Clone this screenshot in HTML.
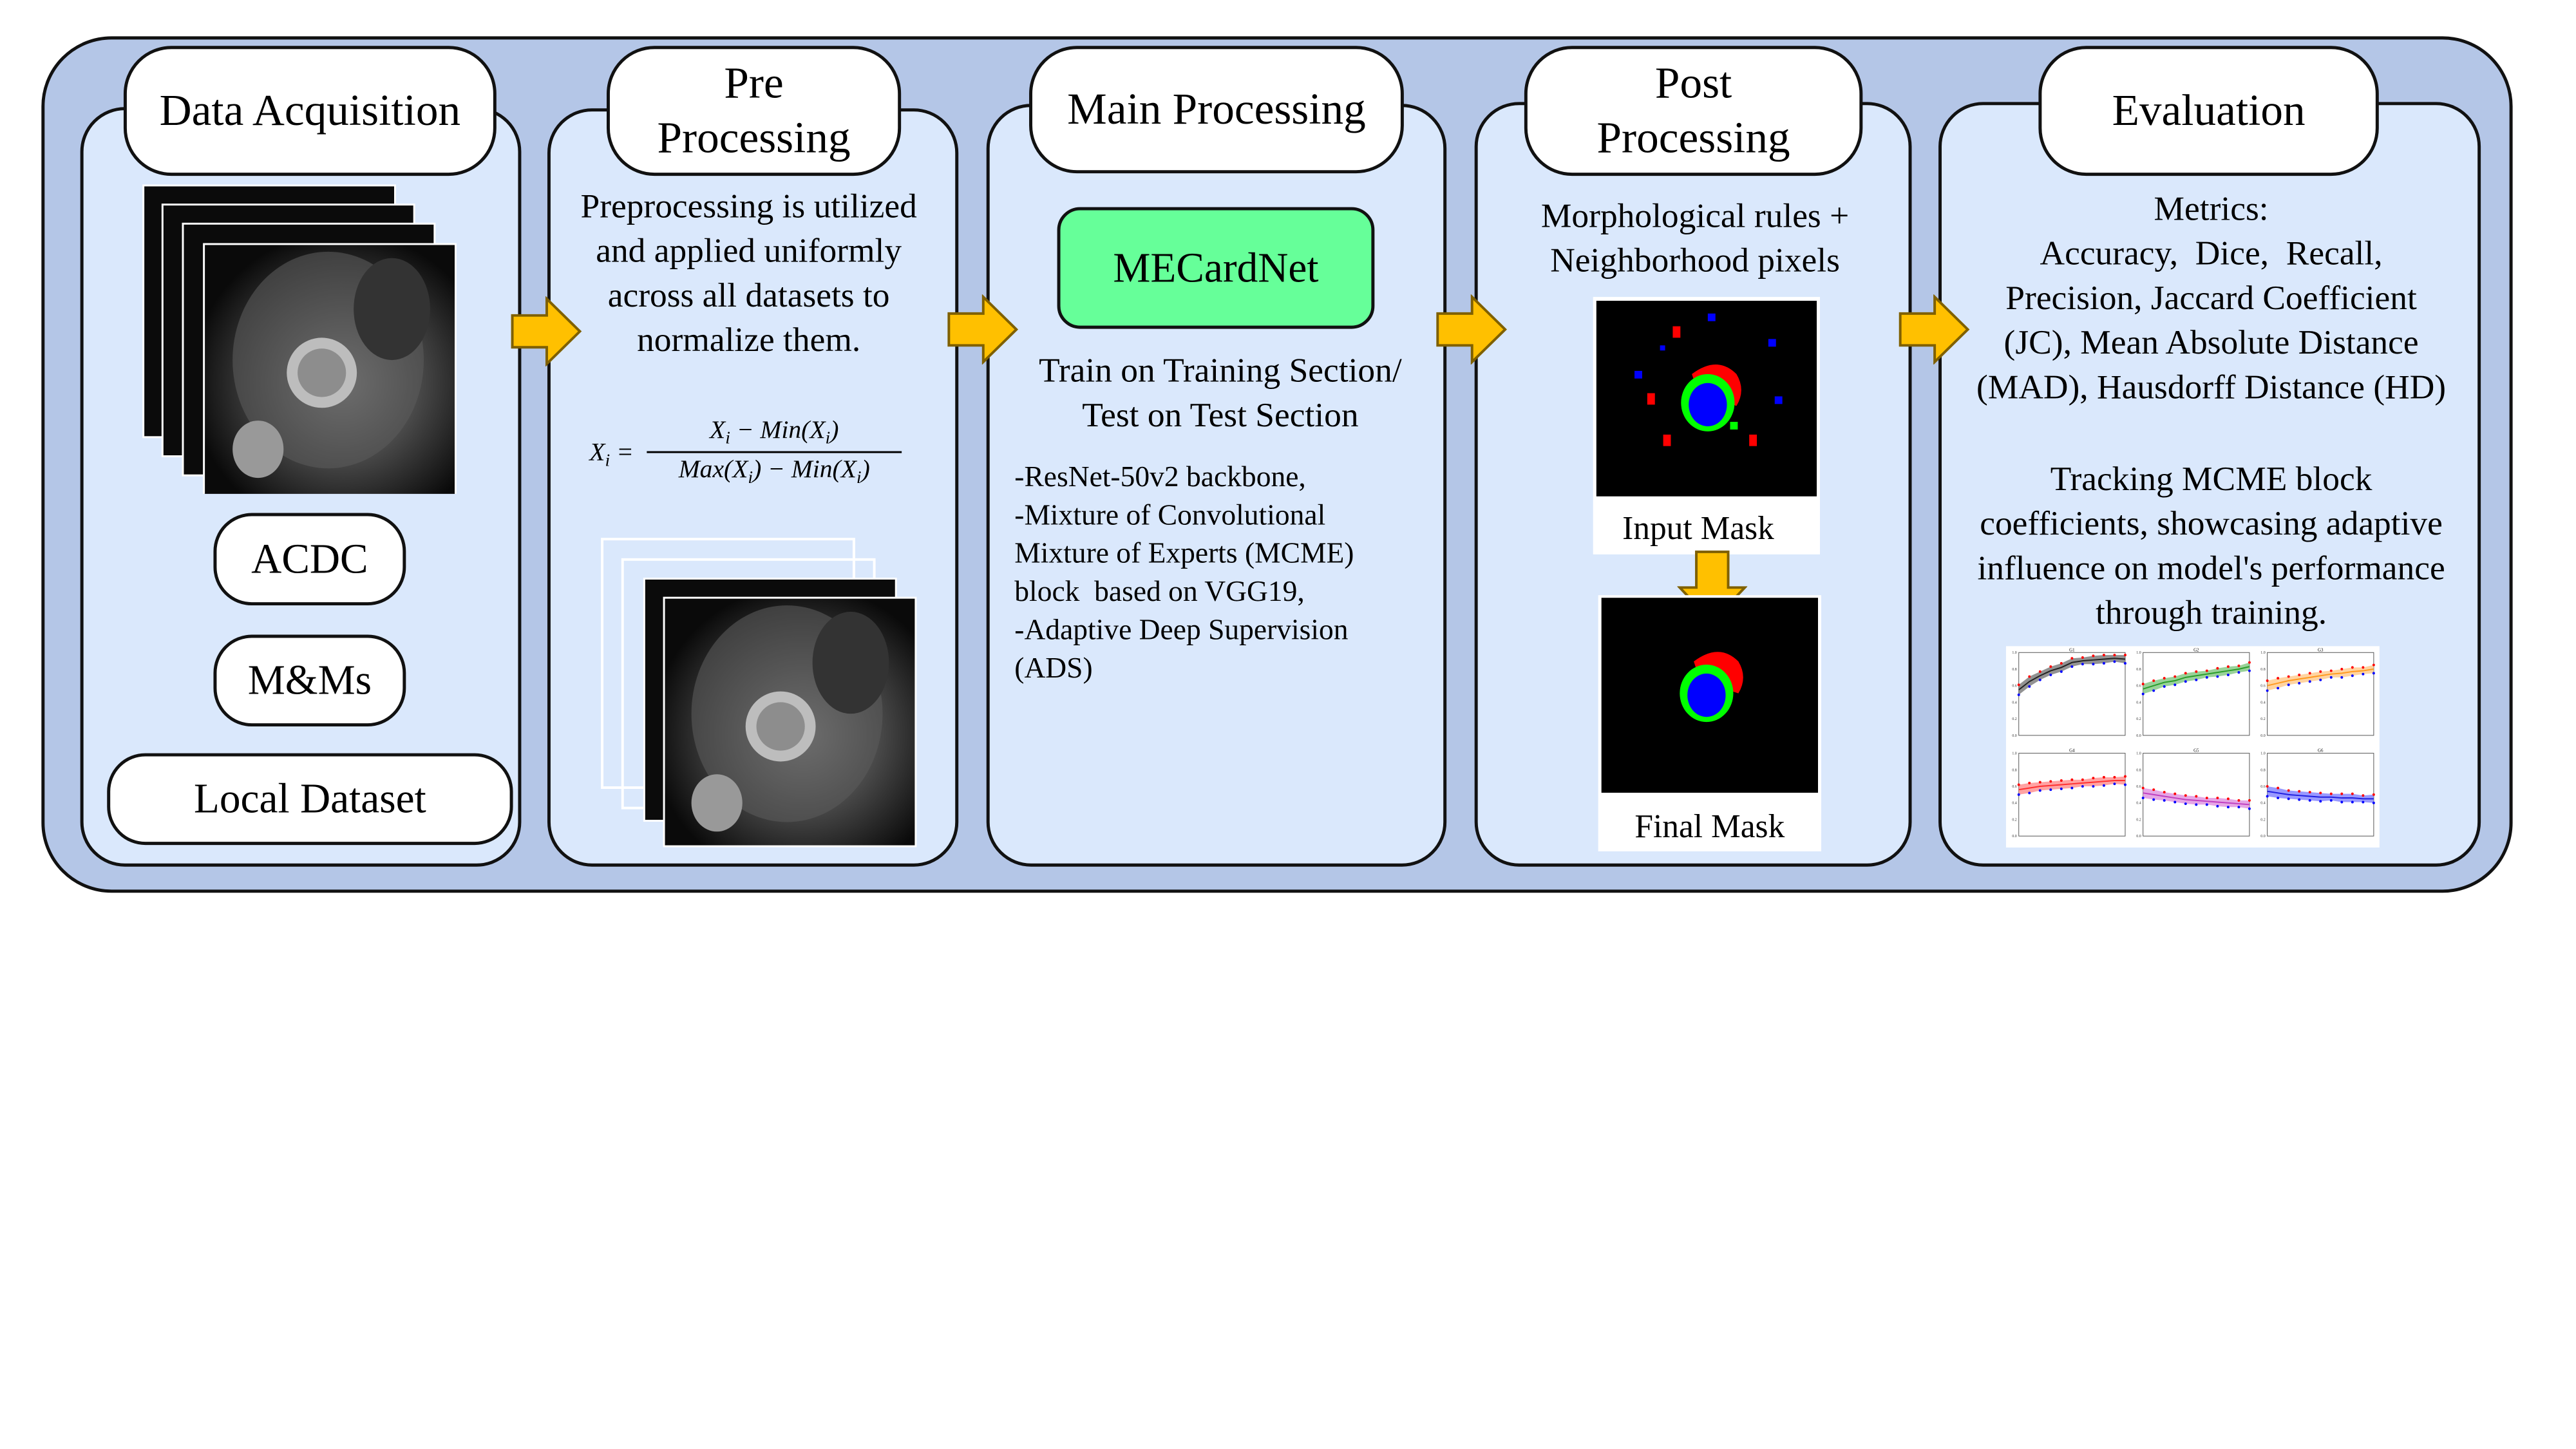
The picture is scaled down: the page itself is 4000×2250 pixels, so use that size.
<!DOCTYPE html>
<html><head><meta charset="utf-8">
<style>
body{margin:0;background:#fff;}
#wrap{position:relative;width:4000px;height:2250px;overflow:hidden;}
#root{position:absolute;left:0;top:0;width:4000px;height:2250px;transform:scale(0.9895);transform-origin:0 0;font-family:"Liberation Serif",serif;color:#000;}
.abs{position:absolute;box-sizing:border-box;}
.outer{left:65px;top:57px;width:3878px;height:1344px;background:#b4c6e7;border:5px solid #111;border-radius:110px;}
.col{background:#dae8fc;border:5px solid #111;border-radius:70px;}
.hdr{background:#fff;border:5px solid #111;border-radius:75px;display:flex;align-items:center;justify-content:center;text-align:center;font-size:70px;line-height:86px;}
.pill{background:#fff;border:5px solid #111;border-radius:60px;display:flex;align-items:center;justify-content:center;font-size:66px;}
.txt{text-align:center;font-size:54px;line-height:70px;}
</style></head><body>
<div id="wrap">
<div id="root">
<div class="abs outer"></div>

<div class="abs col" style="left:126px;top:168px;width:692px;height:1192px"></div>
<div class="abs col" style="left:859px;top:170px;width:645px;height:1190px"></div>
<div class="abs col" style="left:1548px;top:163px;width:722px;height:1197px"></div>
<div class="abs col" style="left:2314px;top:160px;width:686px;height:1200px"></div>
<div class="abs col" style="left:3042px;top:160px;width:851px;height:1200px"></div>

<div class="abs hdr" style="left:194px;top:72px;width:585px;height:204px">Data Acquisition</div>
<div class="abs hdr" style="left:952px;top:72px;width:462px;height:204px">Pre<br>Processing</div>
<div class="abs hdr" style="left:1615px;top:72px;width:588px;height:200px">Main Processing</div>
<div class="abs hdr" style="left:2392px;top:72px;width:531px;height:204px">Post<br>Processing</div>
<div class="abs hdr" style="left:3199px;top:72px;width:534px;height:204px">Evaluation</div>

<svg class="abs" style="left:800px;top:465px;width:120px;height:110px"><polygon points="4,30 58,30 58,4 110,55 58,106 58,80 4,80" fill="#ffc000" stroke="#7f6000" stroke-width="4"/></svg>
<svg class="abs" style="left:1485px;top:462px;width:120px;height:110px"><polygon points="4,30 58,30 58,4 110,55 58,106 58,80 4,80" fill="#ffc000" stroke="#7f6000" stroke-width="4"/></svg>
<svg class="abs" style="left:2252px;top:462px;width:120px;height:110px"><polygon points="4,30 58,30 58,4 110,55 58,106 58,80 4,80" fill="#ffc000" stroke="#7f6000" stroke-width="4"/></svg>
<svg class="abs" style="left:2978px;top:462px;width:120px;height:110px"><polygon points="4,30 58,30 58,4 110,55 58,106 58,80 4,80" fill="#ffc000" stroke="#7f6000" stroke-width="4"/></svg>

<svg class="abs" style="left:215px;top:285px;width:520px;height:490px">
<defs><radialGradient id="mri" cx="0.55" cy="0.55" r="0.6"><stop offset="0" stop-color="#8a8a8a"/><stop offset="0.5" stop-color="#4a4a4a"/><stop offset="1" stop-color="#0a0a0a"/></radialGradient></defs>
<rect x="10" y="6" width="395" height="395" fill="#0b0b0b" stroke="#fff" stroke-width="3"/>
<rect x="40" y="36" width="395" height="395" fill="#0b0b0b" stroke="#fff" stroke-width="3"/>
<rect x="72" y="66" width="395" height="395" fill="#0b0b0b" stroke="#fff" stroke-width="3"/>
<rect x="105" y="98" width="395" height="395" fill="url(#mri)" stroke="#fff" stroke-width="3"/>
<ellipse cx="300" cy="280" rx="150" ry="170" fill="#5a5a5a" opacity="0.6"/>
<circle cx="290" cy="300" r="55" fill="#bdbdbd"/><circle cx="290" cy="300" r="38" fill="#8d8d8d"/>
<ellipse cx="400" cy="200" rx="60" ry="80" fill="#333"/>
<ellipse cx="190" cy="420" rx="40" ry="45" fill="#999"/>
</svg>
<div class="abs pill" style="left:335px;top:805px;width:302px;height:145px">ACDC</div>
<div class="abs pill" style="left:335px;top:996px;width:302px;height:144px">M&amp;Ms</div>
<div class="abs pill" style="left:168px;top:1182px;width:637px;height:144px">Local Dataset</div>

<div class="abs txt" style="left:870px;top:288px;width:610px">Preprocessing is utilized<br>and applied uniformly<br>across all datasets to<br>normalize them.</div>
<div class="abs" style="left:925px;top:650px;width:500px;height:120px;font-style:italic;font-size:40px;">
 <div class="abs" style="left:0;top:35px;">X<sub style="font-size:28px">i</sub> =</div>
 <div class="abs" style="left:90px;top:0;width:400px;text-align:center;border-bottom:3px solid #000;padding-bottom:4px">X<sub style="font-size:28px">i</sub> − Min(X<sub style="font-size:28px">i</sub>)</div>
 <div class="abs" style="left:90px;top:62px;width:400px;text-align:center">Max(X<sub style="font-size:28px">i</sub>) − Min(X<sub style="font-size:28px">i</sub>)</div>
</div>
<svg class="abs" style="left:935px;top:840px;width:520px;height:490px">
<rect x="10" y="6" width="395" height="390" fill="none" stroke="#fff" stroke-width="4"/>
<rect x="42" y="38" width="395" height="390" fill="none" stroke="#fff" stroke-width="4"/>
<rect x="76" y="68" width="395" height="380" fill="#0b0b0b" stroke="#fff" stroke-width="3"/>
<rect x="107" y="98" width="395" height="390" fill="url(#mri)" stroke="#fff" stroke-width="3"/>
<ellipse cx="300" cy="280" rx="150" ry="170" fill="#5a5a5a" opacity="0.6"/>
<circle cx="290" cy="300" r="55" fill="#bdbdbd"/><circle cx="290" cy="300" r="38" fill="#8d8d8d"/>
<ellipse cx="400" cy="200" rx="60" ry="80" fill="#333"/>
<ellipse cx="190" cy="420" rx="40" ry="45" fill="#999"/>
</svg>

<div class="abs" style="left:1659px;top:325px;width:498px;height:191px;background:#66ff99;border:5px solid #111;border-radius:36px;display:flex;align-items:center;justify-content:center;font-size:66px">MECardNet</div>
<div class="abs txt" style="left:1560px;top:546px;width:710px">Train on Training Section/<br>Test on Test Section</div>
<div class="abs" style="left:1592px;top:718px;width:660px;font-size:46px;line-height:60px">-ResNet-50v2 backbone,<br>-Mixture of Convolutional<br>Mixture of Experts (MCME)<br>block&nbsp; based on VGG19,<br>-Adaptive Deep Supervision<br>(ADS)</div>

<div class="abs txt" style="left:2320px;top:303px;width:680px">Morphological rules +<br>Neighborhood pixels</div>
<div class="abs" style="left:2500px;top:466px;width:356px;height:404px;background:#fff"></div>
<svg class="abs" style="left:2505px;top:472px;width:346px;height:307px">
<rect width="346" height="307" fill="#000"/>
<path d="M150,115 q40,-30 70,0 q15,25 0,50 l-60,-20z" fill="#f00"/>
<ellipse cx="175" cy="160" rx="42" ry="45" fill="#0f0"/><ellipse cx="175" cy="163" rx="30" ry="34" fill="#00f"/>
<rect x="175" y="20" width="12" height="12" fill="#00f"/><rect x="120" y="40" width="12" height="18" fill="#f00"/>
<rect x="270" y="60" width="12" height="12" fill="#00f"/><rect x="60" y="110" width="12" height="12" fill="#00f"/>
<rect x="80" y="145" width="12" height="18" fill="#f00"/><rect x="280" y="150" width="12" height="12" fill="#00f"/>
<rect x="105" y="210" width="12" height="18" fill="#f00"/><rect x="240" y="210" width="12" height="18" fill="#f00"/>
<rect x="210" y="190" width="12" height="12" fill="#0f0"/><rect x="100" y="70" width="8" height="8" fill="#00f"/>
</svg>
<div class="abs" style="left:2500px;top:800px;width:330px;text-align:center;font-size:52px">Input Mask</div>
<svg class="abs" style="left:2632px;top:862px;width:110px;height:120px"><polygon points="30,4 80,4 80,60 106,60 55,114 4,60 30,60" fill="#ffc000" stroke="#7f6000" stroke-width="4"/></svg>
<div class="abs" style="left:2508px;top:934px;width:350px;height:402px;background:#fff"></div>
<svg class="abs" style="left:2513px;top:938px;width:340px;height:306px">
<rect width="340" height="306" fill="#000"/>
<path d="M145,100 q40,-30 70,0 q15,25 0,50 l-60,-20z" fill="#f00"/>
<ellipse cx="165" cy="150" rx="42" ry="45" fill="#0f0"/><ellipse cx="165" cy="153" rx="30" ry="34" fill="#00f"/>
</svg>
<div class="abs" style="left:2508px;top:1268px;width:350px;text-align:center;font-size:52px">Final Mask</div>

<div class="abs txt" style="left:3050px;top:292px;width:840px">Metrics:<br>Accuracy,&nbsp; Dice,&nbsp; Recall,<br>Precision, Jaccard Coefficient<br>(JC), Mean Absolute Distance<br>(MAD), Hausdorff Distance (HD)</div>
<div class="abs txt" style="left:3050px;top:716px;width:840px">Tracking MCME block<br>coefficients, showcasing adaptive<br>influence on model's performance<br>through training.</div>
<svg id="charts" class="abs" style="left:3148px;top:1014px;width:586px;height:316px;background:#fff"></svg>
</div>
</div>
<script>
const chartTitles=["G1","G2","G3","G4","G5","G6"];
const epochs=[0,10,20,30,40,50,60,70,80,90,100];
const g1Mean=[0.55,0.65,0.72,0.78,0.82,0.88,0.90,0.91,0.92,0.93,0.92];
const g2Mean=[0.56,0.60,0.64,0.66,0.70,0.72,0.74,0.76,0.78,0.80,0.83];
const g3Mean=[0.60,0.63,0.66,0.68,0.70,0.72,0.74,0.75,0.77,0.78,0.80];
const g4Mean=[0.56,0.58,0.60,0.61,0.62,0.63,0.64,0.65,0.66,0.67,0.67];
const g5Mean=[0.52,0.50,0.48,0.46,0.44,0.43,0.42,0.41,0.40,0.39,0.38];
const g6Mean=[0.54,0.52,0.50,0.49,0.48,0.47,0.47,0.46,0.46,0.45,0.45];
const spread=[0.06,0.06,0.05,0.05,0.05,0.05,0.04,0.05,0.05,0.04,0.05];
const colors=["#222","#2a9d2a","#ff9a1f","#ff3030","#c040c0","#2020e0"];
const fills=["#777","#7fc77f","#ffc98a","#ff8c8c","#e090e0","#8080ff"];
const allMeans=[g1Mean,g2Mean,g3Mean,g4Mean,g5Mean,g6Mean];
const yTicks=[0,0.2,0.4,0.6,0.8,1.0];
const NS="http://www.w3.org/2000/svg";
const svg=document.getElementById('charts');
function mk(t,a){const e=document.createElementNS(NS,t);for(const k in a)e.setAttribute(k,a[k]);return e;}
const cw=195,ch=158;
allMeans.forEach((m,i)=>{
 const ox=(i%3)*cw, oy=Math.floor(i/3)*ch;
 const L=ox+20,R=ox+cw-8,T=oy+10,B=oy+ch-18;
 const xs=v=>L+(v/100)*(R-L), ys=v=>B-v*(B-T);
 const g=mk('g',{});
 
 
 const frame=mk('rect',{x:L,y:T,width:R-L,height:B-T,fill:'none',stroke:'#555','stroke-width':1});
 
 
 g.appendChild(frame);
 const tt=mk('text',{x:(L+R)/2,y:T-2,'font-size':7,'text-anchor':'middle'});tt.textContent=chartTitles[i];
 
 
 g.appendChild(tt);
 yTicks.forEach(t=>{const l=mk('text',{x:L-3,y:ys(t)+2,'font-size':6,'text-anchor':'end',fill:'#333'});l.textContent=t.toFixed(1);
  
  
  g.appendChild(l);});
 let up=epochs.map((e,k)=>xs(e)+','+ys(m[k]+spread[k])).join(' ');
 let lo=epochs.map((e,k)=>xs(e)+','+ys(m[k]-spread[k])).reverse().join(' ');
 const band=mk('polygon',{points:up+' '+lo,fill:fills[i],opacity:0.8});
 
 
 g.appendChild(band);
 const line=mk('polyline',{points:epochs.map((e,k)=>xs(e)+','+ys(m[k])).join(' '),fill:'none',stroke:colors[i],'stroke-width':2});
 
 
 g.appendChild(line);
 epochs.forEach((e,k)=>{
  const p1=mk('circle',{cx:xs(e),cy:ys(m[k]+spread[k]),r:2,fill:'#f00'});
  
  
  g.appendChild(p1);
  const p2=mk('circle',{cx:xs(e),cy:ys(m[k]-spread[k]),r:2,fill:'#00f'});
  
  
  g.appendChild(p2);
 });
 svg.appendChild(g);
});
</script>
</body></html>
